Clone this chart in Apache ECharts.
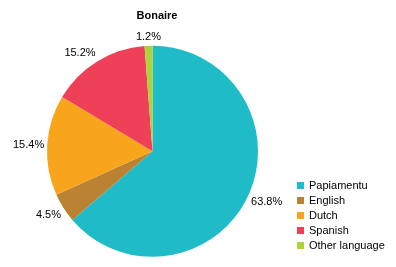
<!DOCTYPE html>
<html><head><meta charset="utf-8">
<script src="https://cdn.jsdelivr.net/npm/echarts@6/dist/echarts.min.js"></script>
<style>html,body{margin:0;padding:0;background:#fff}#c{width:396px;height:267px}</style>
</head><body><div id="c"></div>
<script>
const categories = ["Papiamentu", "English", "Dutch", "Spanish", "Other language"];
const values = [63.8, 4.5, 15.4, 15.2, 1.2];
const colors = ["#1FBBC6", "#BA8232", "#F9A51B", "#EE4057", "#AED23A"];
const FONT = 'Liberation Sans, Arial, sans-serif';
const chart = echarts.init(document.getElementById('c'));
chart.setOption({
  animation: false,
  color: colors,
  title: {text: "Bonaire", left: 152, top: 5, textAlign: 'center',
    textStyle: {fontFamily: FONT, fontSize: 11, fontWeight: 'bold', color: '#000'}},
  legend: {orient: 'vertical', left: 297, top: 180, itemWidth: 7, itemHeight: 7, itemGap: 4,
    padding: 0, icon: 'rect', data: categories,
    textStyle: {fontFamily: FONT, fontSize: 11, color: '#000'}},
  series: [{
    type: 'pie', center: [152.5, 151.3], radius: [0, 105.5], startAngle: 90, clockwise: true,
    avoidLabelOverlap: false,
    data: categories.map((c, i) => ({name: c, value: values[i]})),
    label: {show: true, position: 'outside', formatter: p => p.value.toFixed(1) + '%',
      fontFamily: FONT, fontSize: 11, color: '#000', overflow: 'none', bleedMargin: 0},
    labelLine: {show: false, length: 3, length2: 0},
    labelLayout: function (params) {
      const pts = params.labelLinePoints;
      if (!pts) return {};
      const dx = pts[1][0] - pts[0][0];
      const dy = pts[1][1] - pts[0][1];
      const len = Math.sqrt(dx * dx + dy * dy) || 1;
      const ux = dx / len, uy = dy / len;
      return {
        x: pts[1][0], y: pts[1][1],
        align: Math.abs(ux) < 0.25 ? 'center' : (ux > 0 ? 'left' : 'right'),
        verticalAlign: Math.abs(uy) < 0.25 ? 'middle' : (uy > 0 ? 'top' : 'bottom')
      };
    },
    itemStyle: {borderWidth: 0},
    emphasis: {disabled: true}
  }]
});
</script></body></html>
